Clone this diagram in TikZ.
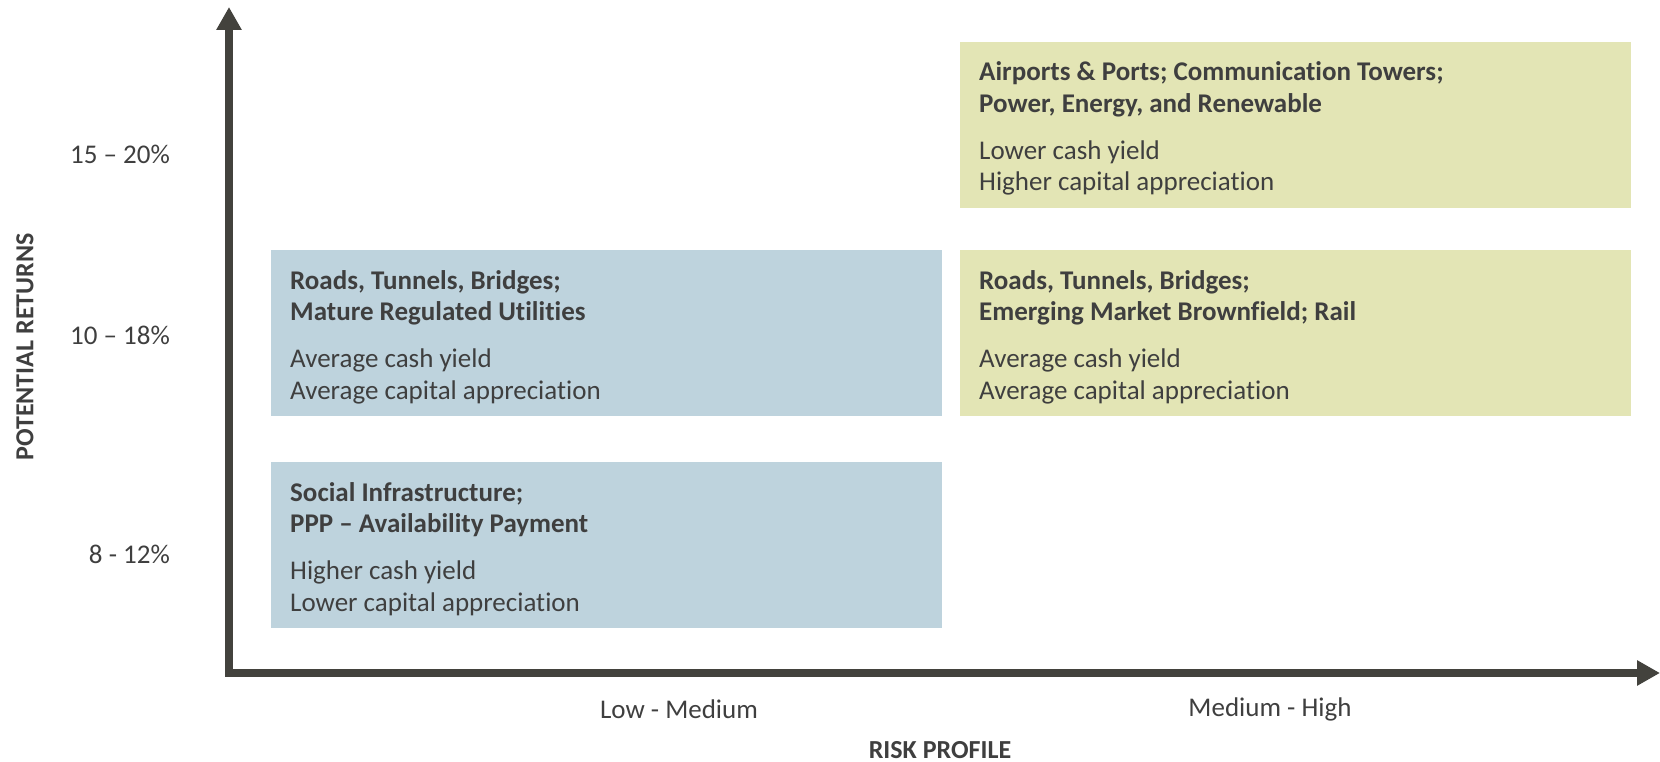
\documentclass[tikz,border=0pt]{standalone}
\usepackage{fontspec}
\setmainfont{Carlito}[Ligatures={NoCommon}]
\usetikzlibrary{arrows.meta}
\definecolor{axisgray}{HTML}{43423D}
\definecolor{txtgray}{HTML}{3F3F3F}
\definecolor{lowblue}{HTML}{BED3DD}
\definecolor{highgreen}{HTML}{E3E5B5}
\tikzset{
  tier/.style={rectangle, draw=none, inner sep=0pt, anchor=north west,
    minimum width=671pt, minimum height=166pt},
  lowtier/.style={tier, fill=lowblue},
  hightier/.style={tier, fill=highgreen},
  % the base anchor of a multi-line node sits on its last baseline
  tiertext/.style={anchor=base west, align=left, inner sep=0pt, text=txtgray,
    font=\fontsize{27}{31.5}\selectfont},
  ticklabel/.style={inner sep=0pt, text=txtgray, font=\fontsize{27}{31}\selectfont},
  axistitle/.style={inner sep=0pt, text=txtgray, font=\fontsize{26}{30}\selectfont\bfseries},
  axisline/.style={draw=axisgray, line width=8pt, line join=miter,
    {Triangle[width=24pt,length=23pt]}-{Triangle[width=24pt,length=23pt]}}
}
\begin{document}
\begin{tikzpicture}[x=1pt,y=-1pt]
\useasboundingbox (0,0) rectangle (1660,762);

% category boxes
\node[lowtier]  (roadsLow)  at (271,250) {};
\node[lowtier]  (social)    at (271,462) {};
\node[hightier] (airports)  at (960,42)  {};
\node[hightier] (roadsHigh) at (960,250) {};

\node[tiertext] (roadsLowTxt) at (290,399)
  {\textbf{Roads, Tunnels, Bridges;}\\\textbf{Mature Regulated Utilities}\\[15.5pt]
   Average cash yield\\Average capital appreciation};
\node[tiertext] (socialTxt) at (290,611)
  {\textbf{Social Infrastructure;}\\\textbf{PPP – Availability Payment}\\[15.5pt]
   Higher cash yield\\Lower capital appreciation};
\node[tiertext] (airportsTxt) at (979,191)
  {\textbf{Airports \& Ports; Communication Towers;}\\\textbf{Power, Energy, and Renewable}\\[15.5pt]
   Lower cash yield\\Higher capital appreciation};
\node[tiertext] (roadsHighTxt) at (979,399)
  {\textbf{Roads, Tunnels, Bridges;}\\\textbf{Emerging Market Brownfield; Rail}\\[15.5pt]
   Average cash yield\\Average capital appreciation};

% axes
\coordinate (yTop) at (229,7);
\coordinate (origin) at (229,673);
\coordinate (xEnd) at (1660,673);
\draw[axisline] (yTop) -- (origin) -- (xEnd);

% return bands
\node[ticklabel, anchor=east] (r1) at (170,154) {15 – 20\%};
\node[ticklabel, anchor=east] (r2) at (170,335) {10 – 18\%};
\node[ticklabel, anchor=east] (r3) at (170,554) {8 - 12\%};
\node[axistitle, rotate=90] (ytitle) at (25,347) {POTENTIAL RETURNS};

% risk bands
\node[ticklabel] (lowmed) at (679,709) {Low - Medium};
\node[ticklabel] (medhigh) at (1270,709) {Medium - High};
\node[axistitle] (xtitle) at (940,750) {RISK PROFILE};
\end{tikzpicture}
\end{document}
